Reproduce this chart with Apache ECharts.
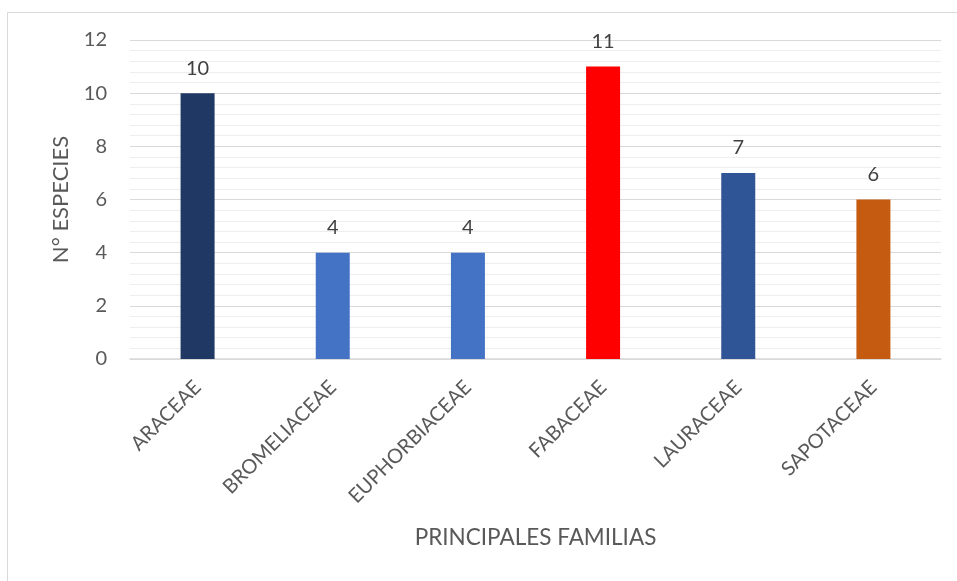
<!DOCTYPE html>
<html>
<head>
<meta charset="utf-8">
<script src="https://cdn.jsdelivr.net/npm/echarts@6/dist/echarts.min.js"></script>
<style>html,body{margin:0;padding:0;background:#fff}#c{width:957px;height:581px}</style>
</head>
<body>
<div id="c"></div>
<script>
var categories = ['ARACEAE','BROMELIACEAE','EUPHORBIACEAE','FABACEAE','LAURACEAE','SAPOTACEAE'];
var values = [10,4,4,11,7,6];
var barColors = ['#203864','#4472C4','#4472C4','#FF0000','#2F5597','#C55A11'];
var yTicks = [0,2,4,6,8,10,12];
var xTitle = 'PRINCIPALES FAMILIAS';
var yTitle = 'N° ESPECIES';

var chart = echarts.init(document.getElementById('c'));
var font = 'Lato, "Open Sans", sans-serif';
chart.setOption({
  animation: false,
  graphic: [{
    type: 'rect', left: 5, top: 10,
    shape: {width: 1000, height: 700},
    style: {fill: 'none', stroke: '#d9d9d9', lineWidth: 1}
  }],
  grid: {left: 130, right: 16, top: 40, bottom: 222},
  xAxis: {
    type: 'category', data: categories,
    name: xTitle, nameLocation: 'middle', nameGap: 167,
    nameTextStyle: {color: '#595959', fontSize: 22.5, fontFamily: font},
    axisLine: {lineStyle: {color: '#d9d9d9', width: 1.5}},
    axisTick: {show: false},
    axisLabel: {rotate: 45, color: '#595959', fontSize: 20, fontFamily: font, margin: 25, interval: 0}
  },
  yAxis: {
    type: 'value', min: yTicks[0], max: yTicks[yTicks.length-1], interval: 2,
    name: yTitle, nameLocation: 'middle', nameGap: 58, nameRotate: 90,
    nameTextStyle: {color: '#595959', fontSize: 22, fontFamily: font},
    axisLine: {show: false}, axisTick: {show: false},
    axisLabel: {color: '#595959', fontSize: 20, fontFamily: font, margin: 23},
    splitLine: {lineStyle: {color: '#d9d9d9', width: 1.2}},
    minorTick: {show: false, splitNumber: 5},
    minorSplitLine: {show: true, lineStyle: {color: '#eeeeee', width: 1}}
  },
  series: [{
    type: 'bar', barWidth: 34,
    data: values.map(function(v,i){return {value: v, itemStyle: {color: barColors[i]}};}),
    label: {show: true, position: 'top', distance: 15, color: '#404040', fontSize: 20, fontFamily: font}
  }]
});
</script>
</body>
</html>
